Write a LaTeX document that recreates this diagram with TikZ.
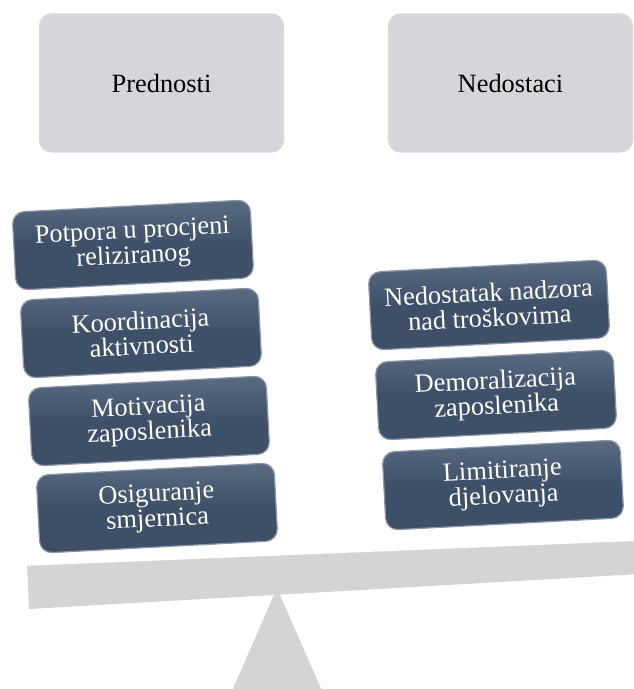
\documentclass[tikz,border=0pt]{standalone}
\usepackage{fontspec}
\setmainfont{Liberation Serif}
\definecolor{headgray}{HTML}{D5D6D9}
\definecolor{slate}{HTML}{3E5068}
\definecolor{slatelight}{HTML}{5A6B82}
\definecolor{beamgray}{HTML}{D3D4D6}
\begin{document}
\begin{tikzpicture}[x=0.5pt, y=-0.5pt,
        every node/.style = {align=center, font=\fontsize{13.2}{12.6}\selectfont},
        head/.style = {shape=rectangle, rounded corners=6pt, fill=headgray,
                draw=white!85!black, line width=0.6pt,
                minimum width=122pt, minimum height=69pt},
        item/.style = {shape=rectangle, rounded corners=6pt, rotate=3,
                top color=slatelight, bottom color=slate, middle color=slate,
                draw=slatelight!70!white, line width=0.6pt, text=white,
                minimum width=119pt, minimum height=39pt, inner sep=1pt}]
    \useasboundingbox (0,0) rectangle (633,689);
    % fulcrum and beam
    \fill[beamgray] (277,588) -- (326,700) -- (228,700) -- cycle;
    \fill[beamgray] (27,565) -- (640,540) -- (640,574) -- (29,609) -- cycle;
    \draw[white, line width=0.8pt] (27,565) -- (640,540);
    % headers
    \node[head] (pred) at (161.5,83) {Prednosti};
    \node[head] (nedo) at (510.5,83) {Nedostaci};
    % left pan
    \node[item] (potpora) at (133,245) {Potpora u procjeni\\reliziranog};
    \node[item] (koord)   at (141,333) {Koordinacija\\aktivnosti};
    \node[item] (motiv)   at (149,421) {Motivacija\\zaposlenika};
    \node[item] (osig)    at (157,508) {Osiguranje\\smjernica};
    % right pan
    \node[item] (nadzor)  at (489,305) {Nedostatak nadzora\\nad troškovima};
    \node[item] (demor)   at (496,395) {Demoralizacija\\zaposlenika};
    \node[item] (limit)   at (503,485) {Limitiranje\\djelovanja};
\end{tikzpicture}
\end{document}
